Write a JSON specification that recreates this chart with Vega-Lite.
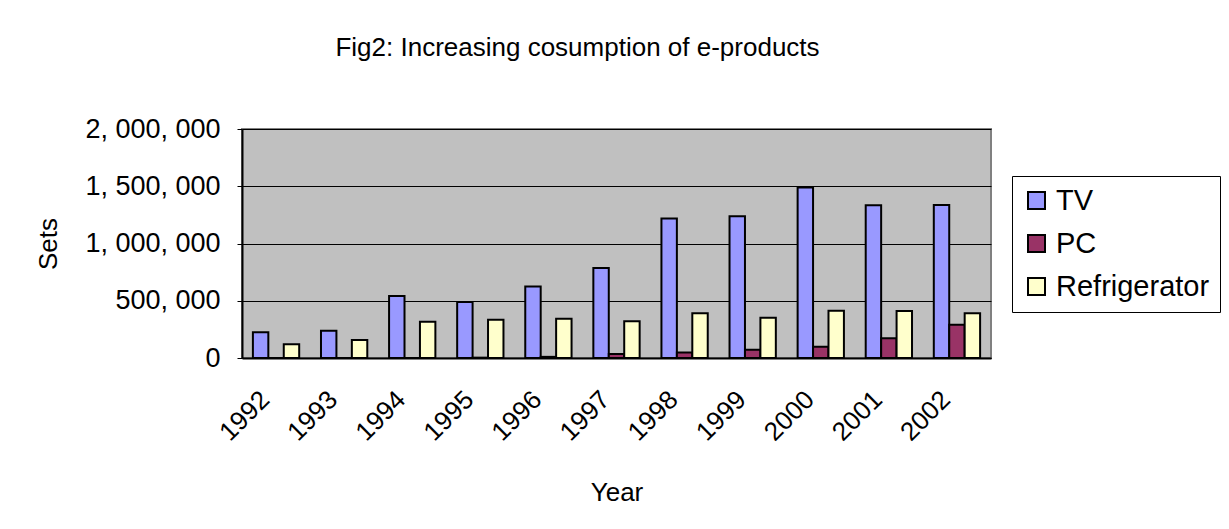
{
  "$schema": "https://vega.github.io/schema/vega-lite/v6.json",
  "autosize": "none",
  "width": 749,
  "height": 229,
  "padding": {"left": 242, "top": 129, "right": 238, "bottom": 171},
  "background": "white",
  "title": {
    "text": "Fig2: Increasing cosumption of e-products",
    "font": "Liberation Sans",
    "fontSize": 26,
    "fontWeight": "normal",
    "color": "black",
    "anchor": "middle",
    "frame": "group",
    "baseline": "alphabetic",
    "offset": 33,
    "dx": -39
  },
  "config": {
    "font": "Liberation Sans",
    "view": {"fill": "#C0C0C0", "stroke": "#808080", "strokeWidth": 2}
  },
  "data": {
    "values": [
      {"year": "1992", "product": "TV", "sets": 224000},
      {"year": "1992", "product": "PC", "sets": 0},
      {"year": "1992", "product": "Refrigerator", "sets": 119000},
      {"year": "1993", "product": "TV", "sets": 238000},
      {"year": "1993", "product": "PC", "sets": 0},
      {"year": "1993", "product": "Refrigerator", "sets": 157000},
      {"year": "1994", "product": "TV", "sets": 541000},
      {"year": "1994", "product": "PC", "sets": 0},
      {"year": "1994", "product": "Refrigerator", "sets": 317000},
      {"year": "1995", "product": "TV", "sets": 488000},
      {"year": "1995", "product": "PC", "sets": 3000},
      {"year": "1995", "product": "Refrigerator", "sets": 334000},
      {"year": "1996", "product": "TV", "sets": 625000},
      {"year": "1996", "product": "PC", "sets": 10000},
      {"year": "1996", "product": "Refrigerator", "sets": 343000},
      {"year": "1997", "product": "TV", "sets": 785000},
      {"year": "1997", "product": "PC", "sets": 35000},
      {"year": "1997", "product": "Refrigerator", "sets": 320000},
      {"year": "1998", "product": "TV", "sets": 1218000},
      {"year": "1998", "product": "PC", "sets": 49000},
      {"year": "1998", "product": "Refrigerator", "sets": 390000},
      {"year": "1999", "product": "TV", "sets": 1238000},
      {"year": "1999", "product": "PC", "sets": 73000},
      {"year": "1999", "product": "Refrigerator", "sets": 352000},
      {"year": "2000", "product": "TV", "sets": 1488000},
      {"year": "2000", "product": "PC", "sets": 99000},
      {"year": "2000", "product": "Refrigerator", "sets": 413000},
      {"year": "2001", "product": "TV", "sets": 1334000},
      {"year": "2001", "product": "PC", "sets": 172000},
      {"year": "2001", "product": "Refrigerator", "sets": 410000},
      {"year": "2002", "product": "TV", "sets": 1337000},
      {"year": "2002", "product": "PC", "sets": 291000},
      {"year": "2002", "product": "Refrigerator", "sets": 390000}
    ]
  },
  "mark": {"type": "bar", "stroke": "black", "strokeWidth": 2},
  "encoding": {
    "x": {
      "field": "year",
      "type": "nominal",
      "scale": {"paddingInner": 0.32, "paddingOuter": 0.16},
      "axis": {
        "title": "Year",
        "titleFontSize": 26,
        "titleFontWeight": "normal",
        "titleColor": "black",
        "titlePadding": 34,
        "labelAngle": -45,
        "labelFontSize": 26,
        "labelColor": "black",
        "labelPadding": 28,
        "labelOffset": -20,
        "ticks": false,
        "domainColor": "black",
        "domainWidth": 2,
        "grid": false
      }
    },
    "xOffset": {
      "field": "product",
      "type": "nominal",
      "sort": ["TV", "PC", "Refrigerator"],
      "scale": {"paddingInner": 0, "paddingOuter": 0}
    },
    "y": {
      "field": "sets",
      "type": "quantitative",
      "scale": {"domain": [0, 2000000]},
      "axis": {
        "title": "Sets",
        "titleFontSize": 26,
        "titleFontWeight": "normal",
        "titleColor": "black",
        "titlePadding": 23,
        "values": [0, 500000, 1000000, 1500000, 2000000],
        "labelExpr": "join(split(format(datum.value, ','), ','), ', ')",
        "labelFontSize": 27,
        "labelColor": "black",
        "labelPadding": 17,
        "tickSize": 5,
        "tickColor": "black",
        "domainColor": "black",
        "domainWidth": 2,
        "grid": true,
        "gridColor": "black",
        "gridWidth": 1,
        "gridOpacity": 1
      }
    },
    "color": {
      "field": "product",
      "type": "nominal",
      "sort": ["TV", "PC", "Refrigerator"],
      "scale": {"domain": ["TV", "PC", "Refrigerator"], "range": ["#9999FF", "#993366", "#FFFFCC"]},
      "legend": {
        "title": null,
        "orient": "none",
        "legendX": 770,
        "legendY": 47,
        "fillColor": "white",
        "strokeColor": "black",
        "padding": 10,
        "symbolType": "square",
        "symbolSize": 289,
        "symbolStrokeColor": "black",
        "symbolStrokeWidth": 2,
        "symbolOpacity": 1,
        "labelFontSize": 29,
        "labelColor": "black",
        "labelOffset": 5,
        "rowPadding": 13,
        "labelLimit": 300
      }
    }
  }
}
